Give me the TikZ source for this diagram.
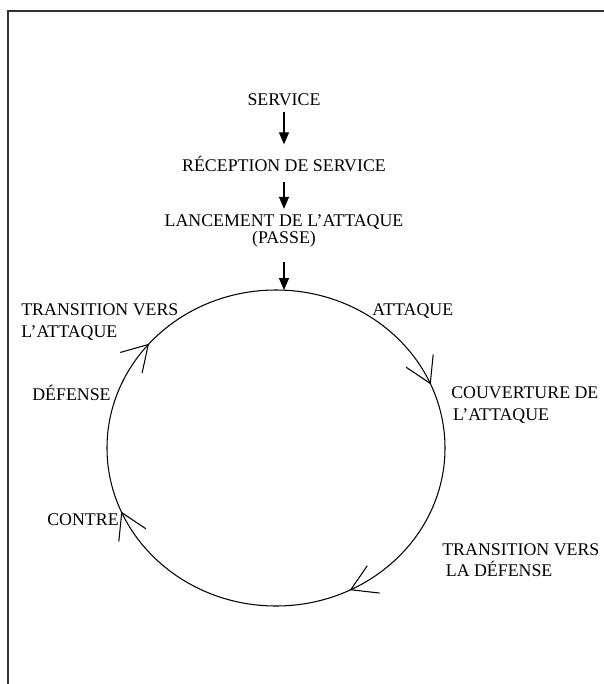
\documentclass[tikz,border=0pt]{standalone}
\usepackage{fontspec}
\setmainfont{Liberation Serif}
\usetikzlibrary{arrows.meta,decorations.markings}
\tikzset{cyclehead/.tip={Straight Barb[length=0.5cm,width=0.6cm]}}

\begin{document}
\begin{tikzpicture}[x=0.02cm,y=-0.02cm,>={Triangle[length=0.24cm,width=0.2cm]},
  every node/.style={inner sep=0pt,font=\fontsize{10.15}{12.2}\selectfont},
  flow/.style={->,line width=0.7pt}]
  \tikzstyle{phase}=[anchor=west,align=left]
  \useasboundingbox (0,0) rectangle (604,684);
  \draw[line width=1pt,black!80] (604,11) -- (8,11) -- (8,684);

  \node (S) at (284,100) {SERVICE};
  \node (R) at (284,164) {RÉCEPTION DE SERVICE};
  \node[align=center] (L) at (284,231) {LANCEMENT DE L’ATTAQUE\\[-2pt](PASSE)};
  \coordinate (top) at (284,290);

  \draw[flow,shorten <=0.12cm,shorten >=0.23cm] (S) -- (R);
  \draw[flow,shorten <=0.2cm,shorten >=0.1cm] (R) -- (L);
  \draw[flow,shorten <=0.28cm] (L) -- (top);

  \draw[line width=0.6pt,postaction={decorate},decoration={markings,
      mark=at position 0.176 with {\arrow{cyclehead}},
      mark=at position 0.436 with {\arrow{cyclehead}},
      mark=at position 0.612 with {\arrow{cyclehead}},
      mark=at position 0.936 with {\arrow{cyclehead}}}]
    (276,448) ellipse [x radius=169,y radius=158];

  \node[phase] (TA) at (21,322) {TRANSITION VERS\\L’ATTAQUE};
  \node[phase] (A) at (372,311) {ATTAQUE};
  \node[phase] (C) at (451,405) {COUVERTURE DE\\\hspace*{1pt}L’ATTAQUE};
  \node[phase] (D) at (32,393) {DÉFENSE};
  \node[phase] (CO) at (47,520) {CONTRE};
  \node[phase] (TD) at (442,560) {TRANSITION VERS\\\hspace*{2pt}LA DÉFENSE};
\end{tikzpicture}
\end{document}
